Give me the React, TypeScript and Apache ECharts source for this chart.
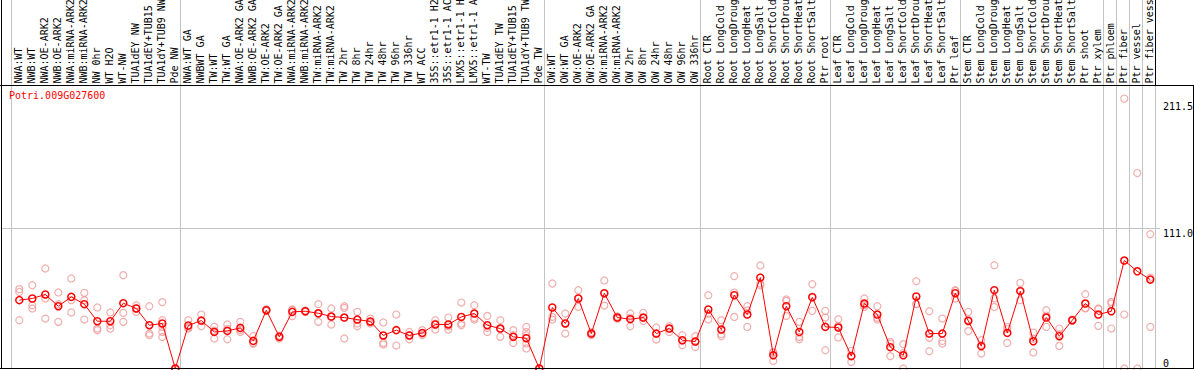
import React, { useEffect, useRef } from 'react';
import * as echarts from 'echarts';

const geneId = 'Potri.009G027600';

const categories = [
  'NWA:WT', 'NWB:WT', 'NWA:OE-ARK2', 'NWB:OE-ARK2', 'NWA:miRNA-ARK2', 'NWB:miRNA-ARK2',
  'NW 0hr', 'WT H2O', 'WT-NW', 'TUA1dEY NW', 'TUA1dEY+TUB15 NW', 'TUA1dY+TUB9 NW', 'Pde NW',
  'NWA:WT GA', 'NWBWT GA', 'TW:WT', 'TW:WT GA', 'NWA:OE-ARK2 GA', 'NWB:OE-ARK2 GA',
  'TW:OE-ARK2', 'TW:OE-ARK2 GA', 'NWA:miRNA-ARK2 GA', 'NWB:miRNA-ARK2 GA', 'TW:miRNA-ARK2',
  'TW:miRNA-ARK2 GA', 'TW 2hr', 'TW 8hr', 'TW 24hr', 'TW 48hr', 'TW 96hr', 'TW 336hr', 'WT ACC',
  '35S::etr1-1 H2O', '35S::etr1-1 ACC', 'LMX5::etr1-1 H2O', 'LMX5::etr1-1 ACC', 'WT-TW',
  'TUA1dEY TW', 'TUA1dEY+TUB15 TW', 'TUA1dY+TUB9 TW', 'Pde TW',
  'OW:WT', 'OW:WT GA', 'OW:OE-ARK2', 'OW:OE-ARK2 GA', 'OW:miRNA-ARK2', 'OW:miRNA-ARK2 GA',
  'OW 2hr', 'OW 8hr', 'OW 24hr', 'OW 48hr', 'OW 96hr', 'OW 336hr',
  'Root CTR', 'Root LongCold', 'Root LongDrought', 'Root LongHeat', 'Root LongSalt',
  'Root ShortCold', 'Root ShortDrought', 'Root ShortHeat', 'Root ShortSalt', 'Ptr root',
  'Leaf CTR', 'Leaf LongCold', 'Leaf LongDrought', 'Leaf LongHeat', 'Leaf LongSalt',
  'Leaf ShortCold', 'Leaf ShortDrought', 'Leaf ShortHeat', 'Leaf ShortSalt', 'Ptr leaf',
  'Stem CTR', 'Stem LongCold', 'Stem LongDrought', 'Stem LongHeat', 'Stem LongSalt',
  'Stem ShortCold', 'Stem ShortDrought', 'Stem ShortHeat', 'Stem ShortSalt', 'Ptr shoot',
  'Ptr xylem', 'Ptr phloem', 'Ptr fiber', 'Ptr vessel', 'Ptr fiber vessel',
];

// index of first category of each group (a separator line is drawn before it)
const groupStarts = [0, 13, 41, 53, 63, 73, 84, 85, 86, 87];

const means = [
  54.2, 55.5, 58.7, 49.4, 56.8, 51.0, 37.5, 37.5, 51.8, 47.6, 34.3, 35.7, 0,
  34.1, 38.0, 29.0, 29.8, 32.2, 21.9, 46.2, 25.1, 44.9, 45.4, 43.8, 41.2, 40.4, 38.8, 37.3,
  26.2, 30.4, 26.2, 28.2, 34.9, 34.9, 40.9, 43.6, 34.3, 31.7, 25.1, 24.0, 0,
  48.4, 35.7, 55.5, 27.7, 59.7, 40.4, 39.1, 40.4, 27.7, 31.7, 22.4, 21.4,
  46.8, 30.9, 58.1, 42.8, 72.1, 10.5, 49.4, 29.0, 56.5, 33.0,
  32.5, 9.8, 51.5, 42.8, 16.9, 10.5, 57.1, 27.7, 27.7, 59.7,
  37.7, 17.7, 62.1, 28.2, 61.3, 21.6, 40.4, 25.6, 38.3, 51.5, 42.8,
  45.4, 85.6, 77.1, 70.5,
];

const replicates = [
  [62.9, 60.7, 38.3], [66.0, 50.2, 47.6], [79.3, 55.5, 39.6], [60.3, 51.0, 37.0],
  [71.4, 54.2, 44.4], [60.0, 54.2, 38.8], [48.4, 31.7, 30.4], [44.4, 34.3, 31.7],
  [74.0, 44.1, 37.0], [50.2, 47.6, 44.9], [49.4, 27.7, 26.4], [52.6, 38.3, 33.0, 29.0, 25.0],
  [0, 0, 0],
  [38.3, 31.7, 32.5], [42.8, 33.5, 37.8], [33.0, 23.8, 30.0], [34.9, 23.2, 31.5],
  [37.0, 29.0, 30.6], [25.8, 20.3, 19.6], [47.0, 45.6, 46.0], [23.8, 26.0, 25.5],
  [46.8, 41.5, 46.4], [45.4, 46.0, 44.8], [51.0, 37.0, 43.4], [47.6, 34.9, 41.1],
  [49.4, 48.0, 23.8], [44.9, 35.7, 33.5], [39.6, 35.7, 36.6], [36.5, 20.3, 19.0],
  [42.8, 18.2], [29.0, 23.2, 26.4], [30.4, 26.4, 27.8], [38.3, 30.9, 35.5],
  [40.4, 30.9, 33.4], [52.3, 35.7, 34.3], [50.2, 40.1, 38.8], [41.7, 29.0, 32.2],
  [38.3, 25.1, 31.7], [30.4, 26.4, 20.3], [33.0, 29.0, 26.4, 19.8, 15.9], [0, 0, 0],
  [67.4, 40.9, 38.8], [43.6, 27.7, 35.8], [62.1, 48.8, 55.6], [28.9, 26.5, 27.7],
  [69.8, 49.9, 59.4], [40.4, 39.5, 41.3], [43.6, 33.5, 40.2], [44.1, 37.7, 40.1],
  [32.5, 23.0, 27.6], [33.5, 29.0, 31.7], [26.4, 18.5, 22.3], [25.6, 17.1, 21.4],
  [58.1, 38.8, 43.5], [38.3, 27.2, 25.6], [73.2, 40.9, 60.2], [49.4, 33.0, 46.0],
  [81.7, 67.4, 66.0], [12.4, 6.0, 13.1], [54.7, 53.6, 41.7], [37.0, 25.1, 23.2],
  [66.8, 45.7, 57.0], [45.7, 40.4, 14.5],
  [39.1, 24.6, 33.8], [14.0, 5.2, 10.2], [55.5, 48.8, 50.2], [49.4, 38.8, 40.2],
  [21.1, 9.8, 19.8], [19.3, 0, 12.2], [69.2, 51.0, 51.1], [45.4, 24.3, 13.7],
  [39.6, 21.9, 19.8], [62.1, 55.5, 61.5],
  [44.9, 29.6, 38.6], [22.4, 11.9, 18.8], [81.9, 48.8, 55.6], [33.0, 20.3, 31.3],
  [67.9, 54.2, 61.8], [28.5, 12.7, 23.6], [46.2, 33.0, 42.0], [31.7, 17.9, 27.2],
  [38.8, 37.9, 38.2], [58.9, 47.6, 48.0], [47.6, 33.8, 47.0],
  [52.8, 51.5, 31.7], [214.0, 42.8, 0], [155.0, 0], [106.5, 72.1, 33.0],
];

const yTickValues = [0, 111, 211.5];
const yTickLabels = ['0', '111.0', '211.5'];
const referenceLine = 111;

const MONO = "'DejaVu Sans Mono', 'Liberation Mono', monospace";

export default function App() {
  const ref = useRef<HTMLDivElement>(null);

  useEffect(() => {
    const chart = echarts.init(ref.current as HTMLDivElement, null, { renderer: 'svg' });

    const meanData = means.map((v, i) => [i, v]);
    const repData: number[][] = [];
    replicates.forEach((reps, i) => reps.forEach((v) => repData.push([i, v])));

    const isGroupStart = (idx: number) => groupStarts.indexOf(idx) >= 0;

    const option: any = {
      animation: false,
      backgroundColor: '#ffffff',
      textStyle: { fontFamily: MONO },
      title: {
        text: geneId,
        left: 9,
        top: 90,
        padding: 0,
        textStyle: { color: '#ff0000', fontSize: 10, fontFamily: MONO, fontWeight: 'normal' },
      },
      grid: [
        { left: 1, top: 85.5, width: 1159, height: 283, outerBoundsMode: 'none', containLabel: false },
        { left: 11.5, top: 0, width: 1144, height: 368.5, outerBoundsMode: 'none', containLabel: false },
        { left: 11.5, top: 85.5, width: 1144, height: 283, outerBoundsMode: 'none', containLabel: false },
      ],
      xAxis: [
        { type: 'value', gridIndex: 0, min: -1.4077, max: 87.746, show: false },
        {
          type: 'category', gridIndex: 1, data: categories, boundaryGap: true,
          axisLine: { show: false }, axisTick: { show: false }, axisLabel: { show: false },
          splitLine: {
            show: true,
            interval: (idx: number) => isGroupStart(idx),
            lineStyle: { color: '#c4c4c4', width: 1 },
          },
        },
        {
          type: 'category', gridIndex: 2, data: categories, boundaryGap: true, position: 'top',
          axisLine: { show: false }, axisTick: { show: false }, splitLine: { show: false },
          axisLabel: {
            show: true, interval: 0, rotate: 90, margin: 2, hideOverlap: false,
            fontFamily: MONO, fontSize: 10, color: '#000000',
          },
        },
      ],
      yAxis: [
        {
          type: 'value', gridIndex: 0, min: 0, max: 224.4, position: 'right',
          axisLine: { show: false }, axisTick: { show: false }, splitLine: { show: false },
          axisLabel: {
            show: true,
            customValues: yTickValues,
            margin: 3,
            align: 'left',
            formatter: (v: number) => {
              const idx = yTickValues.indexOf(v);
              const s = idx >= 0 ? yTickLabels[idx] : String(v);
              return v === 0 ? `{b|${s}}` : `{t|${s}}`;
            },
            rich: {
              t: { fontFamily: MONO, fontSize: 10, color: '#000000', padding: [10, 0, 0, 0] },
              b: { fontFamily: MONO, fontSize: 10, color: '#000000', padding: [0, 0, 11, 0] },
            },
          },
        },
        { type: 'value', gridIndex: 1, show: false },
        { type: 'value', gridIndex: 2, show: false },
      ],
      series: [
        {
          type: 'scatter',
          xAxisIndex: 0, yAxisIndex: 0,
          data: repData,
          symbol: 'circle',
          symbolSize: 7,
          itemStyle: { color: 'transparent', borderColor: '#ee9a9a', borderWidth: 1.2 },
          silent: true,
          z: 3,
        },
        {
          type: 'line',
          xAxisIndex: 0, yAxisIndex: 0,
          data: meanData,
          symbol: 'circle',
          symbolSize: 7,
          showAllSymbol: true,
          lineStyle: { color: '#ff0000', width: 1 },
          itemStyle: { color: 'transparent', borderColor: '#ff0000', borderWidth: 1.5 },
          silent: true,
          z: 4,
          markLine: {
            silent: true,
            symbol: 'none',
            label: { show: false },
            lineStyle: { color: '#c4c4c4', width: 1, type: 'solid' },
            data: [{ yAxis: referenceLine }],
            z: 1,
          },
        },
      ],
      graphic: [
        { type: 'line', z: 100, shape: { x1: 1.5, y1: 0, x2: 1.5, y2: 369 }, style: { stroke: '#000', lineWidth: 1 } },
        { type: 'line', z: 100, shape: { x1: 0, y1: 85.5, x2: 1194, y2: 85.5 }, style: { stroke: '#000', lineWidth: 1 } },
        { type: 'line', z: 100, shape: { x1: 0, y1: 368.5, x2: 1194, y2: 368.5 }, style: { stroke: '#000', lineWidth: 1 } },
        { type: 'line', z: 100, shape: { x1: 1193.5, y1: 85, x2: 1193.5, y2: 369 }, style: { stroke: '#000', lineWidth: 1 } },
        { type: 'line', z: 100, shape: { x1: 1155.5, y1: 0, x2: 1155.5, y2: 85 }, style: { stroke: '#000', lineWidth: 1 } },
      ],
    };

    chart.setOption(option);
    return () => chart.dispose();
  }, []);

  return (
    <div
      ref={ref}
      style={{ position: 'absolute', left: 0, top: 0, width: 1194, height: 370, background: '#ffffff' }}
    />
  );
}
